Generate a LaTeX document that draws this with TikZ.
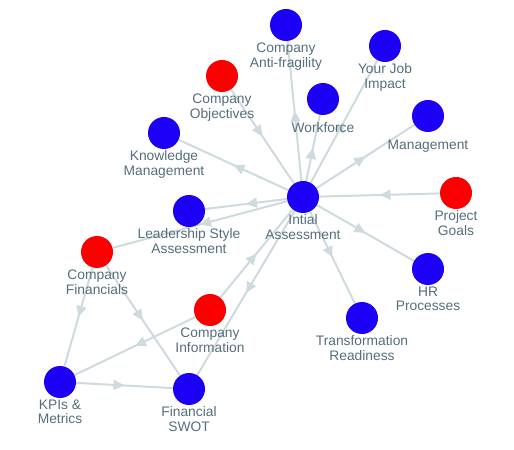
\documentclass[tikz,border=0pt]{standalone}
\usepackage{fontspec}
\setmainfont{Liberation Sans}
\usetikzlibrary{arrows.meta,decorations.markings,backgrounds}
\definecolor{nodeblue}{RGB}{28,0,245}
\definecolor{nodered}{RGB}{250,0,0}
\definecolor{edgegray}{RGB}{207,218,222}
\definecolor{textgray}{RGB}{84,110,122}

\tikzset{kgBlue/.style={circle,fill=nodeblue,minimum size=32bp,inner sep=0pt},
 kgRed/.style={circle,fill=nodered,minimum size=32bp,inner sep=0pt},
 kgText/.style={font=\fontsize{13.8bp}{14.5bp}\selectfont,text=textgray,align=center,inner sep=1.5bp},
 kgOne/.style={kgText,label distance=6bp},
 kgEdge/.style={draw=edgegray,color=edgegray,line width=2bp,postaction={decorate},
  decoration={markings,mark=at position 0.5 with {\arrow{Triangle[length=11bp,width=10bp]}}}}}

\begin{document}
\begin{tikzpicture}[x=1bp,y=-1bp]
\useasboundingbox (0,0) rectangle (514,450);
\node[kgBlue,label={[kgText]below:{Intial\\Assessment}}] (ia) at (303,197) {};
\node[kgBlue,label={[kgText]below:{Company\\Anti-fragility}}] (af) at (286,25) {};
\node[kgBlue,label={[kgText]below:{Your Job\\Impact}}] (job) at (385,46) {};
\node[kgRed,label={[kgText]below:{Company\\Objectives}}] (obj) at (222,76) {};
\node[kgBlue,label={[kgOne]below:{Workforce}}] (wf) at (323,99) {};
\node[kgBlue,label={[kgText]below:{Knowledge\\Management}}] (km) at (164,133) {};
\node[kgBlue,label={[kgOne]below:{Management}}] (mgmt) at (428,116) {};
\node[kgRed,label={[kgText]below:{Project\\Goals}}] (goals) at (456,193) {};
\node[kgBlue,label={[kgText]below:{Leadership Style\\Assessment}}] (lsa) at (189,211) {};
\node[kgRed,label={[kgText]below:{Company\\Financials}}] (fin) at (97,252) {};
\node[kgBlue,label={[kgText]below:{HR\\Processes}}] (hr) at (428,269) {};
\node[kgRed,label={[kgText]below:{Company\\Information}}] (info) at (210,310) {};
\node[kgBlue,label={[kgText]below:{Transformation\\Readiness}}] (tr) at (362,318) {};
\node[kgBlue,label={[kgText]below:{KPIs \&\\Metrics}}] (kpi) at (60,382) {};
\node[kgBlue,label={[kgText]below:{Financial\\SWOT}}] (swot) at (189,389) {};
\begin{scope}[on background layer]
\foreach \a/\b in {ia/af,ia/wf,ia/job,ia/mgmt,goals/ia,obj/ia,ia/km,ia/lsa,ia/fin,
 ia/hr,ia/tr,ia/swot,info/ia,info/kpi,fin/kpi,fin/swot,kpi/swot}{
\draw[kgEdge] (\a)--(\b);}
\end{scope}
\end{tikzpicture}
\end{document}
